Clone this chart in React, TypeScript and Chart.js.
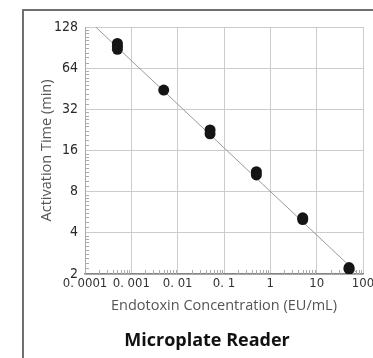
import { useEffect, useRef } from "react";
import { Chart, registerables } from "chart.js";

Chart.register(...registerables);

// Data
const concentrations = [0.0005, 0.0005, 0.0005, 0.005, 0.05, 0.05, 0.5, 0.5, 5, 5, 50, 50];
const activationTimes = [97, 92.5, 88, 44.3, 22.6, 21.2, 11.2, 10.6, 5.15, 5.0, 2.23, 2.17];
const fitLineX = [0.00017, 100];
const fitLineY = [128, 1.85];
const xTickValues = [0.0001, 0.001, 0.01, 0.1, 1, 10, 100];
const xTickLabels = ["0. 0001", "0. 001", "0. 01", "0. 1", "1", "10", "100"];
const yTickValues = [2, 4, 8, 16, 32, 64, 128];
const yTickLabels = ["2", "4", "8", "16", "32", "64", "128"];
const xTitle = "Endotoxin Concentration (EU/mL)";
const yTitle = "Activation Time (min)";
const chartTitle = "Microplate Reader";

const narrow = "'Liberation Sans Narrow', 'DejaVu Sans Condensed', 'Arial Narrow', sans-serif";
const sans = "'Open Sans', 'Noto Sans', sans-serif";

const decorPlugin = {
  id: "decor",
  beforeDraw(chart: any) {
    const ctx = chart.ctx;
    ctx.save();
    ctx.fillStyle = "#ffffff";
    ctx.fillRect(0, 0, chart.width, chart.height);
    ctx.strokeStyle = "#707070";
    ctx.lineWidth = 2;
    ctx.beginPath();
    ctx.moveTo(23, chart.height + 2);
    ctx.lineTo(23, 10);
    ctx.lineTo(chart.width + 2, 10);
    ctx.stroke();
    ctx.restore();
  },
  beforeDatasetsDraw(chart: any) {
    const ctx = chart.ctx;
    const x = chart.scales.x;
    const y = chart.scales.y;
    ctx.save();
    ctx.strokeStyle = "#aaaaaa";
    ctx.lineWidth = 1;
    ctx.beginPath();
    for (let i = 0; i < yTickValues.length - 1; i++) {
      const a = yTickValues[i];
      for (let k = 1; k <= 9; k++) {
        const py = Math.round(y.getPixelForValue(a * (1 + k / 10))) + 0.5;
        ctx.moveTo(x.left, py);
        ctx.lineTo(x.left + 4, py);
      }
    }
    for (let i = 0; i < xTickValues.length - 1; i++) {
      const d = xTickValues[i];
      for (let m = 2; m <= 9; m++) {
        const px = Math.round(x.getPixelForValue(d * m)) + 0.5;
        ctx.moveTo(px, y.bottom);
        ctx.lineTo(px, y.bottom - 4);
      }
    }
    ctx.stroke();
    ctx.restore();
  },
  afterDraw(chart: any) {
    const ctx = chart.ctx;
    ctx.save();
    ctx.fillStyle = "#111111";
    ctx.font = `bold 18px ${sans}`;
    ctx.textAlign = "center";
    ctx.textBaseline = "middle";
    ctx.fillText(chartTitle, 207, 341);
    ctx.restore();
  },
};

export default function App() {
  const ref = useRef<HTMLCanvasElement | null>(null);

  useEffect(() => {
    if (!ref.current) return;
    const points = concentrations.map((c, i) => ({ x: c, y: activationTimes[i] }));
    const line = fitLineX.map((c, i) => ({ x: c, y: fitLineY[i] }));
    const chart = new Chart(ref.current, {
      type: "scatter",
      data: {
        datasets: [
          {
            data: points,
            pointRadius: 5.5,
            pointHoverRadius: 5.5,
            pointBackgroundColor: "#151515",
            pointBorderColor: "#151515",
            pointBorderWidth: 0,
            showLine: false,
          },
          {
            data: line,
            showLine: true,
            pointRadius: 0,
            borderColor: "#9a9a9a",
            borderWidth: 1,
          },
        ],
      },
      options: {
        responsive: false,
        animation: false,
        layout: { padding: { left: 28, right: 10, top: 27, bottom: 0 } },
        plugins: {
          legend: { display: false },
          tooltip: { enabled: false },
          title: { display: false },
        },
        scales: {
          x: {
            type: "logarithmic",
            min: 0.0001,
            max: 100,
            afterBuildTicks: (scale: any) => {
              scale.ticks = xTickValues.map((v) => ({ value: v }));
            },
            afterFit: (scale: any) => {
              scale.height = 84;
              scale.paddingLeft = 0;
              scale.paddingRight = 0;
            },
            ticks: {
              autoSkip: false,
              maxRotation: 0,
              padding: 2,
              color: "#333333",
              font: { family: narrow, size: 13 },
              callback: (_v: any, i: number) => xTickLabels[i],
            },
            grid: { color: "#cccccc", drawTicks: false, lineWidth: 1 },
            border: { color: "#858585", width: 1.5 },
            title: {
              display: true,
              text: xTitle,
              color: "#555555",
              font: { family: sans, size: 14.5 },
              padding: { top: 0, bottom: 43 },
            },
          },
          y: {
            type: "logarithmic",
            min: 2,
            max: 128,
            afterBuildTicks: (scale: any) => {
              scale.ticks = yTickValues.map((v) => ({ value: v }));
            },
            afterFit: (scale: any) => {
              scale.width = 57;
              scale.paddingTop = 0;
              scale.paddingBottom = 0;
            },
            ticks: {
              autoSkip: false,
              padding: 7,
              color: "#2a2a2a",
              font: { family: narrow, size: 14 },
              callback: (_v: any, i: number) => yTickLabels[i],
            },
            grid: { color: "#cccccc", drawTicks: false, lineWidth: 1 },
            border: { color: "#a8a8a8", width: 1 },
            title: {
              display: true,
              text: yTitle,
              color: "#555555",
              font: { family: sans, size: 14.5 },
              padding: { top: 10, bottom: 0 },
            },
          },
        },
      },
      plugins: [decorPlugin],
    });
    return () => chart.destroy();
  }, []);

  return (
    <div style={{ position: "fixed", left: 0, top: 0, width: 373, height: 358, background: "#fff" }}>
      <canvas ref={ref} width={373} height={358} style={{ display: "block" }} />
    </div>
  );
}
